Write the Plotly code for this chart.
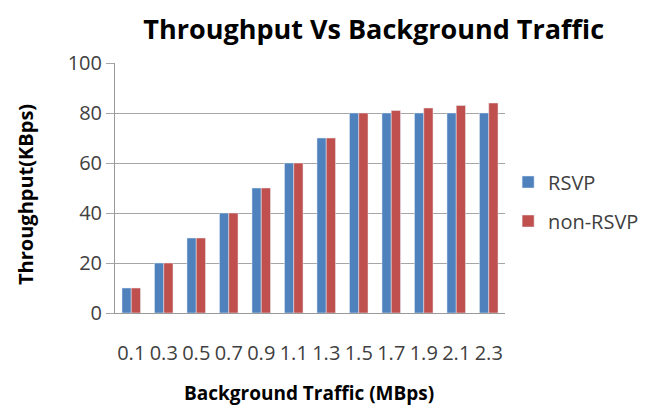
import plotly.graph_objects as go

categories = ["0.1", "0.3", "0.5", "0.7", "0.9", "1.1", "1.3", "1.5", "1.7", "1.9", "2.1", "2.3"]
rsvp = [10, 20, 30, 40, 50, 60, 70, 80, 80, 80, 80, 80]
non_rsvp = [10, 20, 30, 40, 50, 60, 70, 80, 81, 82, 83, 84]

FONT = "Open Sans"
fig = go.Figure()
fig.add_trace(go.Bar(x=categories, y=rsvp, name="RSVP", marker_color="#4F81BD",
                     legendgroup="a"))
fig.add_trace(go.Bar(x=categories, y=non_rsvp, name="non-RSVP", marker_color="#C0504D",
                     legendgroup="b"))

fig.update_layout(
    width=653, height=410,
    margin=dict(l=107, r=156, t=55, b=105, autoexpand=False),
    paper_bgcolor="white", plot_bgcolor="white",
    barmode="group", bargap=0.43, bargroupgap=0,
    title=dict(text="<b>Throughput Vs Background Traffic</b>", x=0.56, xanchor="center",
               y=0.948, yanchor="middle", font=dict(family=FONT, size=27, color="black")),
    legend=dict(x=1.008, y=0.446, xanchor="left", yanchor="middle",
                font=dict(family=FONT, size=20, color="#404040"),
                traceorder="grouped", tracegroupgap=10, itemwidth=30),
    font=dict(family=FONT, color="#404040"),
    annotations=[
        dict(text="<b>Throughput(KBps)</b>", xref="paper", yref="paper", x=-0.2308, y=0.476,
             xanchor="center", yanchor="middle", textangle=-90, showarrow=False,
             font=dict(family=FONT, size=20, color="black")),
        dict(text="<b>Background Traffic (MBps)</b>", xref="paper", yref="paper", x=0.497, y=-0.318,
             xanchor="center", yanchor="middle", showarrow=False,
             font=dict(family=FONT, size=19, color="black")),
    ],
)
fig.update_xaxes(
    type="category", showgrid=False, showline=True, linecolor="#9a9a9a", linewidth=1,
    ticks="", tickfont=dict(family=FONT, size=20, color="#404040"), ticklabelstandoff=22,
)
fig.update_yaxes(
    range=[0, 100], dtick=20, showgrid=True, gridcolor="#a6a6a6", gridwidth=1,
    showline=True, linecolor="#9a9a9a", linewidth=1, zeroline=False,
    ticks="outside", ticklen=8, tickcolor="#a6a6a6",
    tickfont=dict(family=FONT, size=20, color="#404040"),
)
fig.write_html("out.html")
